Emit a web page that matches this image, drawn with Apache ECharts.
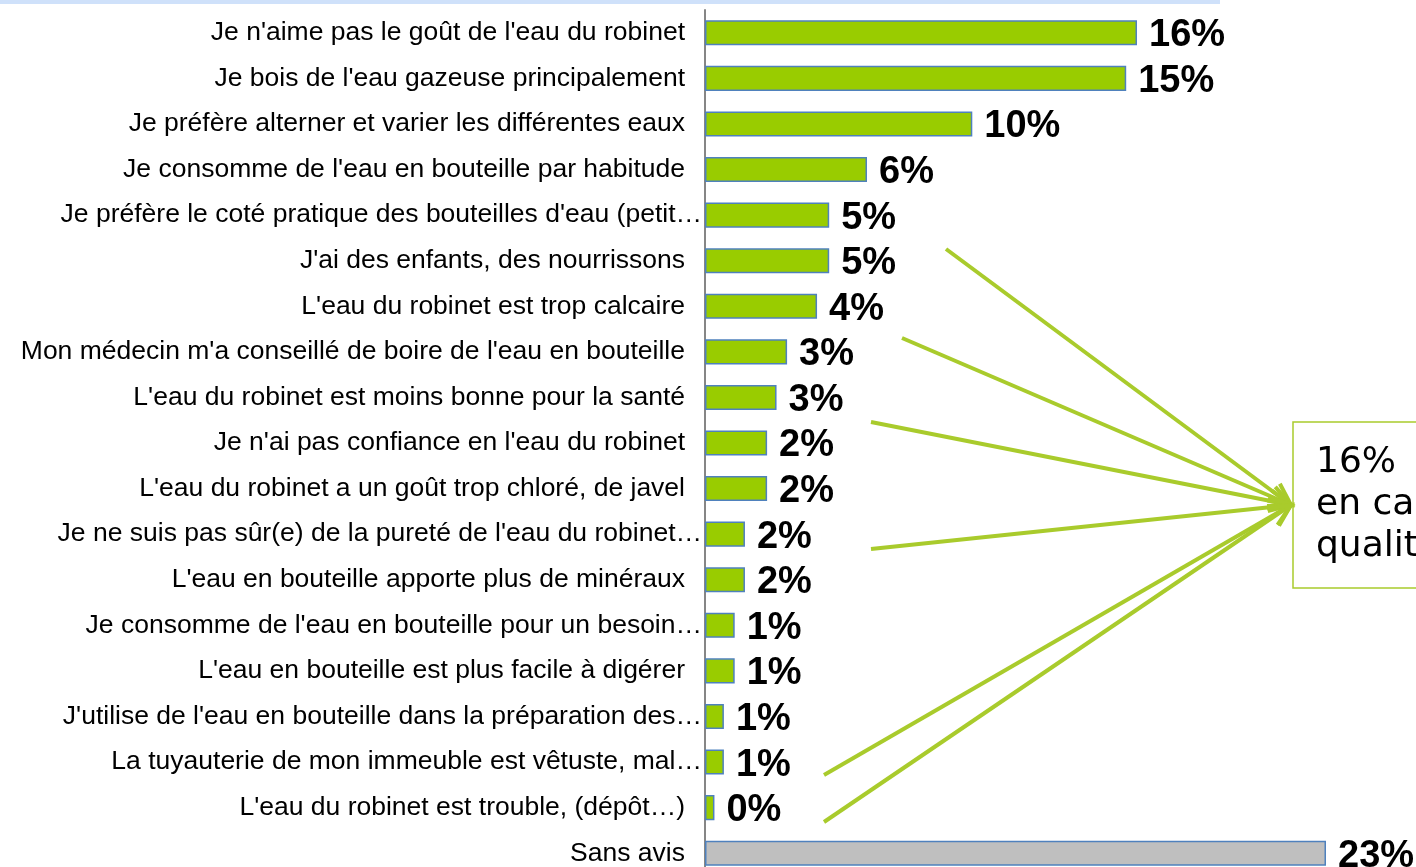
<!DOCTYPE html>
<html lang="fr">
<head>
    <meta charset="utf-8">
    <script src="https://cdn.jsdelivr.net/npm/echarts@6/dist/echarts.min.js"></script>
    <style>
        html, body {
            margin: 0px;
            padding: 0px;
            background-color: #fff;
        }

        #chart {
            width: 1416px;
            height: 867px;
        }
    </style>
</head>
<body>
<div id="chart"></div>
<script type="text/javascript">
    // categories, top to bottom
    var categories = [
        "Je n'aime pas le goût de l'eau du robinet",
        "Je bois de l'eau gazeuse principalement",
        "Je préfère alterner et varier les différentes eaux",
        "Je consomme de l'eau en bouteille par habitude",
        "Je préfère le coté pratique des bouteilles d'eau (petit…",
        "J'ai des enfants, des nourrissons",
        "L'eau du robinet est trop calcaire",
        "Mon médecin m'a conseillé de boire de l'eau en bouteille",
        "L'eau du robinet est moins bonne pour la santé",
        "Je n'ai pas confiance en l'eau du robinet",
        "L'eau du robinet a un goût trop chloré, de javel",
        "Je ne suis pas sûr(e) de la pureté de l'eau du robinet…",
        "L'eau en bouteille apporte plus de minéraux",
        "Je consomme de l'eau en bouteille pour un besoin…",
        "L'eau en bouteille est plus facile à digérer",
        "J'utilise de l'eau en bouteille dans la préparation des…",
        "La tuyauterie de mon immeuble est vêtuste, mal…",
        "L'eau du robinet est trouble, (dépôt…)",
        "Sans avis"
    ];

    // bar lengths in %
    var values = [16.0, 15.6, 9.9, 6.0, 4.6, 4.6, 4.15, 3.04, 2.65, 2.3, 2.3, 1.48, 1.48, 1.1, 1.1, 0.7, 0.7, 0.35, 23.0];

    // printed labels
    var valueLabels = ['16%', '15%', '10%', '6%', '5%', '5%', '4%', '3%', '3%', '2%', '2%', '2%', '2%', '1%', '1%', '1%', '1%', '0%', '23%'];

    var calloutLines = ['16%', 'en cause la', "qualité de l'eau"];

    var myChart = echarts.init(document.getElementById('chart'));

    var green = '#99cc00';
    var lineGreen = '#a9cb2c';

    // arrows from the quality-related answers to the box
    var arrowTip = [1291, 505];
    var arrowStarts = [[946, 249], [902, 338], [871, 422], [871, 549], [824, 775], [824, 822]];

    function buildArrows() {
        var items = [];
        for (var i in arrowStarts) {
            var s = arrowStarts[i];
            var a = Math.atan2(arrowTip[1] - s[1], arrowTip[0] - s[0]);
            var len = 24, spread = 0.45;
            var h1 = [arrowTip[0] - len * Math.cos(a - spread), arrowTip[1] - len * Math.sin(a - spread)];
            var h2 = [arrowTip[0] - len * Math.cos(a + spread), arrowTip[1] - len * Math.sin(a + spread)];
            items.push({
                type: 'polyline',
                shape: {points: [s, arrowTip]},
                style: {stroke: lineGreen, lineWidth: 4, fill: null},
                z: 10
            });
            items.push({
                type: 'polyline',
                shape: {points: [h1, arrowTip, h2]},
                style: {stroke: lineGreen, lineWidth: 4, fill: null, lineJoin: 'miter'},
                z: 10
            });
        }
        return items;
    }

    var graphics = [
        {
            type: 'rect',
            shape: {x: 0, y: 0, width: 1220, height: 4},
            style: {fill: '#cfe1fa'}
        },
        {
            type: 'rect',
            shape: {x: 1293, y: 422, width: 200, height: 166},
            style: {fill: '#fff', stroke: lineGreen, lineWidth: 1.5},
            z: 5
        },
        {
            type: 'text',
            x: 1316,
            y: 442,
            style: {
                text: calloutLines.join('\n'),
                fontFamily: 'DejaVu Sans',
                fontSize: 36,
                lineHeight: 42,
                fill: '#000'
            },
            z: 6
        }
    ].concat(buildArrows());

    var option = {
        animation: false,
        grid: {
            left: 705,
            top: 10,
            width: 810,
            height: 866,
            outerBoundsMode: 'none'
        },
        xAxis: {
            type: 'value',
            min: 0,
            max: 30,
            show: false
        },
        yAxis: {
            type: 'category',
            inverse: true,
            data: categories,
            axisLine: {
                lineStyle: {color: '#868686', width: 2}
            },
            axisTick: {
                length: 6,
                lineStyle: {color: '#868686', width: 2}
            },
            axisLabel: {
                margin: 3,
                interval: 0,
                formatter: function (v) {
                    return v.slice(-1) === '…' ? '{t|' + v + '}' : '{n|' + v + '}';
                },
                rich: {
                    t: {fontFamily: 'Liberation Sans', fontSize: 26.5, color: '#000'},
                    n: {fontFamily: 'Liberation Sans', fontSize: 26.5, color: '#000', padding: [0, 17, 0, 0]}
                }
            }
        },
        series: [{
            type: 'bar',
            data: values,
            barWidth: '55%',
            itemStyle: {
                color: function (p) {
                    return p.dataIndex === values.length - 1 ? '#bfbfbf' : green;
                },
                borderColor: '#4f81bd',
                borderWidth: 1.5
            },
            label: {
                show: true,
                position: 'right',
                distance: 12,
                offset: [0, 3],
                formatter: function (p) {
                    return valueLabels[p.dataIndex];
                },
                fontFamily: 'Liberation Sans',
                fontWeight: 'bold',
                fontSize: 38,
                color: '#000'
            }
        }],
        graphic: graphics
    };

    myChart.setOption(option);
</script>
</body>
</html>
